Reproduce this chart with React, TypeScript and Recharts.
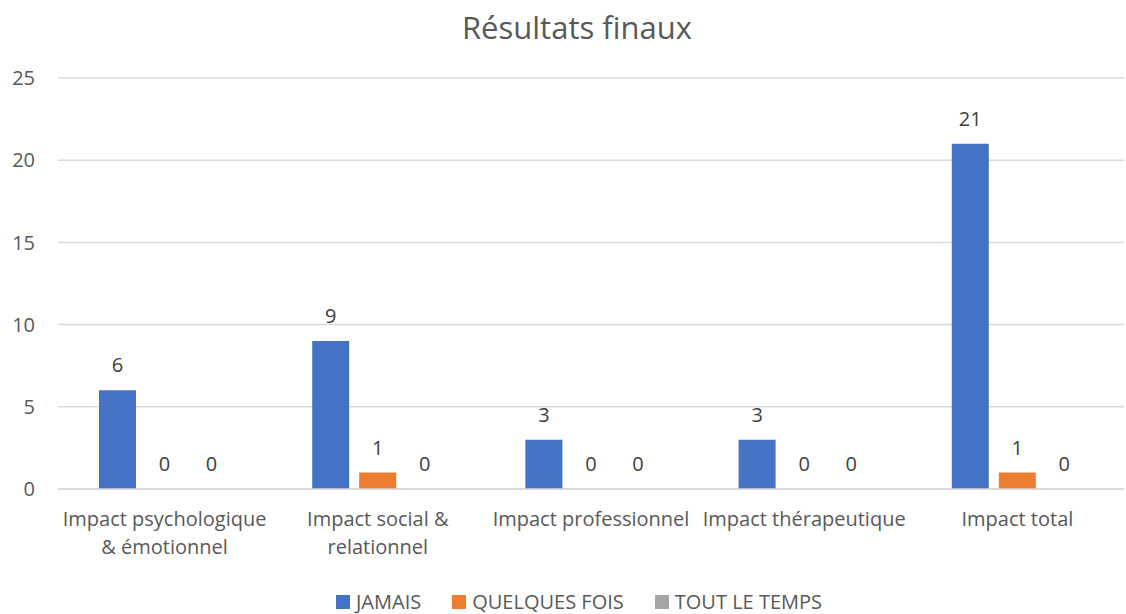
import React from "react";
import { BarChart, Bar, XAxis, YAxis, CartesianGrid, Legend, LabelList, Customized } from "recharts";

const categories = [
  "Impact psychologique & émotionnel",
  "Impact social & relationnel",
  "Impact professionnel",
  "Impact thérapeutique",
  "Impact total",
];
const tickLabelLines = [
  ["Impact psychologique", "& émotionnel"],
  ["Impact social &", "relationnel"],
  ["Impact professionnel"],
  ["Impact thérapeutique"],
  ["Impact total"],
];
const jamais = [6, 9, 3, 3, 21];
const quelquesFois = [0, 1, 0, 0, 1];
const toutLeTemps = [0, 0, 0, 0, 0];
const yTicks = [0, 5, 10, 15, 20, 25];
const seriesNames = ["JAMAIS", "QUELQUES FOIS", "TOUT LE TEMPS"];
const colors = ["#4472C4", "#ED7D31", "#A5A5A5"];
const title = "Résultats finaux";

const data = categories.map((c, i) => ({
  name: c,
  j: jamais[i],
  q: quelquesFois[i],
  t: toutLeTemps[i],
}));

const FONT = "'Open Sans', sans-serif";
const FS = 20;

const CatTick = (props: any) => {
  const { x, y, payload } = props;
  const idx = categories.indexOf(payload.value);
  const lines = idx >= 0 ? tickLabelLines[idx] : [String(payload.value)];
  return (
    <text x={x} y={y} textAnchor="middle" fill="#595959" fontSize={FS} fontFamily={FONT}>
      {lines.map((l, i) => (
        <tspan key={i} x={x} dy={i === 0 ? 29 : 28}>
          {l}
        </tspan>
      ))}
    </text>
  );
};

const LegendContent = () => (
  <div
    style={{
      display: "flex",
      justifyContent: "center",
      alignItems: "center",
      gap: 31,
      fontFamily: FONT,
      fontSize: FS,
      lineHeight: "24px",
      height: 24,
      color: "#595959",
      paddingLeft: 34,
    }}
  >
    {seriesNames.map((n, i) => (
      <div key={n} style={{ display: "flex", alignItems: "center" }}>
        <span style={{ display: "inline-block", width: 14, height: 14, background: colors[i], marginRight: 6 }} />
        <span>{n}</span>
      </div>
    ))}
  </div>
);

const Title = () => (
  <text x={577} y={39} textAnchor="middle" fill="#595959" fontSize={31} fontFamily={FONT}>
    {title}
  </text>
);

const labelProps = { position: "top" as const, offset: 18, fill: "#404040", fontSize: FS, fontFamily: FONT };

export default function App() {
  return (
    <div style={{ position: "absolute", left: 0, top: 0, width: 1126, height: 614, background: "#fff" }}>
      <BarChart
        width={1126}
        height={614}
        data={data}
        margin={{ top: 78, right: 2, left: 0, bottom: 0 }}
        barSize={37}
        barGap={10}
      >
        <CartesianGrid vertical={false} stroke="#D9D9D9" strokeWidth={1.5} />
        <XAxis
          dataKey="name"
          axisLine={{ stroke: "#D9D9D9", strokeWidth: 1.5 }}
          tickLine={false}
          tick={<CatTick />}
          interval={0}
          height={101}
        />
        <YAxis
          domain={[0, 25]}
          ticks={yTicks}
          axisLine={false}
          tickLine={false}
          tickSize={6}
          tickMargin={17}
          width={58}
          tick={{ fill: "#595959", fontSize: FS, fontFamily: FONT }}
        />
        <Legend verticalAlign="bottom" height={24} content={<LegendContent />} />
        <Bar dataKey="j" name={seriesNames[0]} fill={colors[0]} minPointSize={0.01} isAnimationActive={false}>
          <LabelList dataKey="j" {...labelProps} />
        </Bar>
        <Bar dataKey="q" name={seriesNames[1]} fill={colors[1]} minPointSize={0.01} isAnimationActive={false}>
          <LabelList dataKey="q" {...labelProps} />
        </Bar>
        <Bar dataKey="t" name={seriesNames[2]} fill={colors[2]} minPointSize={0.01} isAnimationActive={false}>
          <LabelList dataKey="t" {...labelProps} />
        </Bar>
        <Customized component={<Title />} />
      </BarChart>
    </div>
  );
}
